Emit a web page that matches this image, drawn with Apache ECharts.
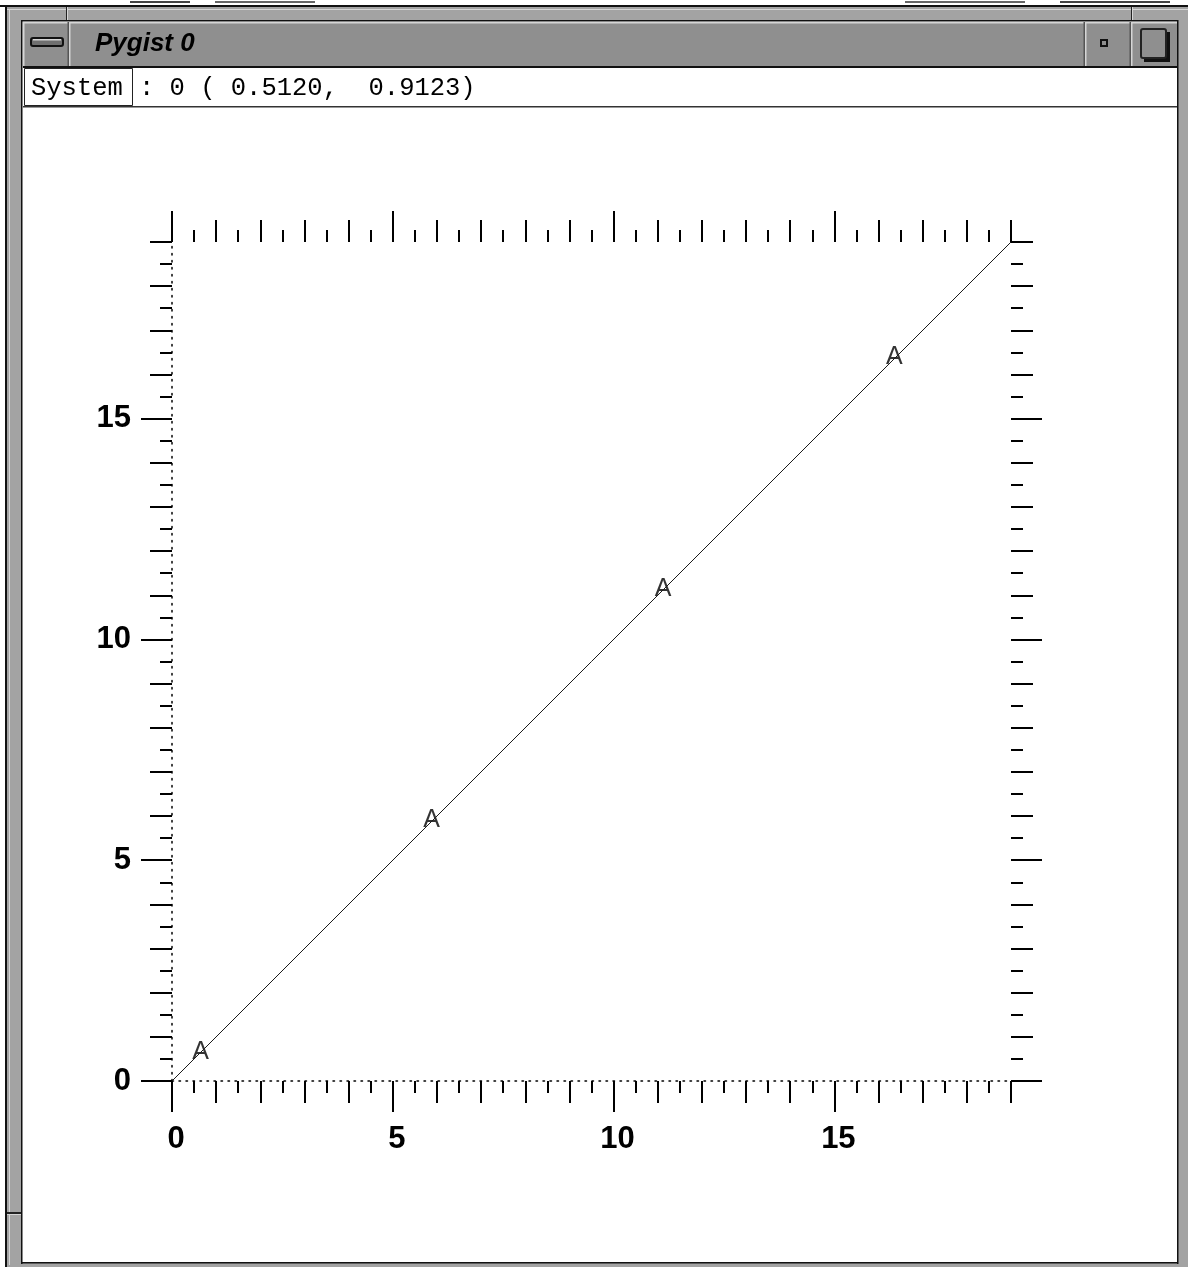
<!DOCTYPE html>
<html>
<head>
<meta charset="utf-8">
<title>Pygist 0</title>
<script src="https://cdn.jsdelivr.net/npm/echarts@6/dist/echarts.min.js"></script>
<style>
  html, body { margin: 0; padding: 0; background: #fff; }
  #chart { width: 1188px; height: 1267px; }
</style>
</head>
<body>
<div id="chart"></div>
<script>
// Axis extent and labelled (major) tick values
const axisMin = 0;
const axisMax = 19;
const majorTicks = [0, 5, 10, 15];

// The plotted curve
const lineX = [0, 19];
const lineY = [0, 19];

// Marker positions along the curve, drawn with the letter "A"
const markerX = [0.65, 5.88, 11.12, 16.36];
const markerY = [0.65, 5.9, 11.15, 16.4];
const markerGlyph = 'A';

// Window texts
const titleText = 'Pygist 0';
const systemLabel = 'System';
const systemReadout = ': 0 ( 0.5120,  0.9123)';

const INK = '#000';
const FRAME = '#a3a3a3';
const BAR = '#8f8f8f';
const LIGHT = '#d6d6d6';
const DARK = '#555';

// Fine ticks: every unit (medium) plus half-units (short)
function fineAxis(position, showLine) {
  return {
    type: 'value', position, min: axisMin, max: axisMax, interval: 1,
    axisLine: { show: showLine, onZero: false, lineStyle: { color: INK, width: 1.5, type: [1.5, 5.5] } },
    axisTick: { show: true, inside: false, length: 22, lineStyle: { color: INK, width: 2 } },
    minorTick: { show: true, splitNumber: 2, length: 12, lineStyle: { color: INK, width: 2 } },
    axisLabel: { show: false },
    splitLine: { show: false },
    minorSplitLine: { show: false }
  };
}

// Long ticks every five units, optionally labelled
function majorAxis(position, showLabels, labelExtra) {
  return {
    type: 'value', position, min: axisMin, max: axisMax,
    axisLine: { show: false, onZero: false },
    axisTick: { show: true, inside: false, length: 31, customValues: majorTicks, lineStyle: { color: INK, width: 2 } },
    axisLabel: Object.assign({
      show: showLabels, customValues: majorTicks, margin: 40,
      fontSize: 31, fontWeight: 'bold', fontFamily: 'Liberation Sans', color: INK
    }, labelExtra || {}),
    splitLine: { show: false }
  };
}

function rect(x, y, w, h, fill, extra) {
  return Object.assign({ type: 'rect', z: 50, silent: true, shape: { x, y, width: w, height: h }, style: { fill } }, extra || {});
}
function text(x, y, str, font, extra) {
  return Object.assign({ type: 'text', z: 60, silent: true, x, y,
    style: Object.assign({ text: str, font, fill: INK, textVerticalAlign: 'middle', verticalAlign: 'middle' }, extra || {}) });
}

// Window decoration around the plot
const frame = [
  rect(0, 5, 1188, 2, '#111'),
  rect(130, 1, 60, 2, '#444'),
  rect(215, 1, 100, 2, '#666'),
  rect(905, 1, 120, 2, '#666'),
  rect(1060, 1, 110, 2, '#444'),
  // grey borders
  rect(5, 7, 1183, 14, FRAME),
  rect(5, 7, 17, 1260, FRAME),
  rect(1178, 7, 10, 1260, FRAME),
  rect(5, 1263, 1183, 4, FRAME),
  rect(5, 7, 2, 1260, '#111'),
  rect(9, 9, 1, 1256, LIGHT),
  rect(7, 9, 1181, 1, LIGHT),
  // resize-corner notches
  rect(7, 1212, 15, 2, '#222'),
  rect(7, 1214, 15, 1, LIGHT),
  rect(66, 7, 1, 14, '#222'),
  rect(67, 7, 1, 14, LIGHT),
  rect(1131, 7, 1, 14, '#222'),
  rect(1132, 7, 1, 14, LIGHT),
  // inner window edges
  rect(21, 20, 1157, 1.5, '#111'),
  rect(21, 20, 1.5, 1244, '#111'),
  rect(1177, 20, 1.5, 1244, '#111'),
  rect(21, 1262, 1157, 1.5, '#111'),
  // title bar
  rect(23, 22, 1154, 44, BAR),
  rect(23, 22, 1154, 1.5, LIGHT),
  rect(23, 22, 1.5, 44, LIGHT),
  rect(23, 66, 1154, 2, '#111'),
  rect(69, 22, 1.5, 44, LIGHT),
  rect(67.5, 22, 1.5, 44, DARK),
  rect(1085, 22, 1.5, 44, LIGHT),
  rect(1083.5, 22, 1.5, 44, DARK),
  rect(1131, 22, 1.5, 44, LIGHT),
  rect(1129.5, 22, 1.5, 44, DARK),
  // minimise bar icon
  { type: 'rect', z: 55, silent: true, shape: { x: 31, y: 38, width: 32, height: 8, r: 2 },
    style: { fill: '#6f6f6f', stroke: '#111', lineWidth: 2 } },
  rect(33, 39, 28, 1.5, LIGHT, { z: 56 }),
  // small square icon
  { type: 'rect', z: 55, silent: true, shape: { x: 1101, y: 40, width: 6, height: 6 },
    style: { fill: BAR, stroke: '#111', lineWidth: 2 } },
  // large square icon with drop shadow
  rect(1144, 32, 26, 30, '#111', { z: 54 }),
  { type: 'rect', z: 55, silent: true, shape: { x: 1141, y: 29, width: 25, height: 29, r: 2 },
    style: { fill: BAR, stroke: '#222', lineWidth: 2 } },
  // system readout row
  rect(23, 106, 1154, 1.5, '#333'),
  { type: 'rect', z: 55, silent: true, shape: { x: 24.5, y: 68.5, width: 108, height: 37 },
    style: { fill: 'none', stroke: '#222', lineWidth: 1 } },
  text(95, 44, titleText, 'italic bold 26px "Liberation Sans"'),
  text(31, 88, systemLabel, '25.5px "Liberation Mono"'),
  text(139, 88, systemReadout, '25.5px "Liberation Mono"')
];

const chart = echarts.init(document.getElementById('chart'), null, { renderer: 'canvas' });
chart.setOption({
  animation: false,
  backgroundColor: '#fff',
  grid: { left: 172, right: 177, top: 242, bottom: 186, containLabel: false },
  xAxis: [
    fineAxis('bottom', true),
    majorAxis('bottom', true, { margin: 43, padding: [0, 0, 0, 8] }),
    fineAxis('top', false),
    majorAxis('top', false)
  ],
  yAxis: [
    fineAxis('left', true),
    majorAxis('left', true, { margin: 41, padding: [5, 0, 0, 0] }),
    fineAxis('right', false),
    majorAxis('right', false)
  ],
  graphic: { elements: frame },
  series: [
    {
      type: 'line',
      xAxisIndex: 0, yAxisIndex: 0,
      data: lineX.map((x, i) => [x, lineY[i]]),
      symbol: 'none',
      lineStyle: { color: '#1a1a1a', width: 1 },
      silent: true
    },
    {
      type: 'scatter',
      xAxisIndex: 0, yAxisIndex: 0,
      data: markerX.map((x, i) => [x, markerY[i]]),
      symbolSize: 1,
      itemStyle: { color: 'rgba(0,0,0,0)' },
      label: {
        show: true, position: 'inside', formatter: markerGlyph,
        fontSize: 25, fontFamily: 'Liberation Sans', fontWeight: 'normal', color: '#000',
        padding: [4, 0, 0, 0]
      },
      silent: true
    }
  ]
});
</script>
</body>
</html>
